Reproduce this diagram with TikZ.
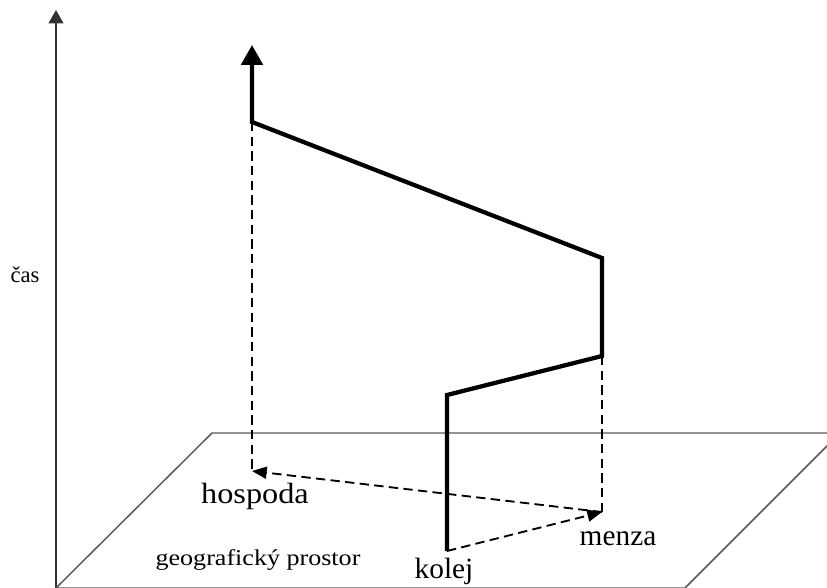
\documentclass[tikz,border=0pt]{standalone}
\usepackage{fontspec}
\setmainfont{Liberation Serif}
\usetikzlibrary{arrows.meta}

\begin{document}
\begin{tikzpicture}[x=0.75pt, y=-0.75pt, axis/.style={-{Triangle[length=10pt,width=11pt]}, line width=1.4pt, black!80}, plane/.style={line width=1.1pt, black!65}, path/.style={-{Triangle[length=15pt,width=16pt]}, line width=3.2pt, line join=miter}, proj/.style={line width=1.4pt, dash pattern=on 7pt off 4pt}, move/.style={proj, -{Triangle[length=11pt,width=9pt]}}, place/.style={font=\fontsize{22}{25}\selectfont, anchor=base}, note/.style={font=\fontsize{17}{20}\selectfont, anchor=base}]

\useasboundingbox (0,0) rectangle (827,588); \clip (0,0) rectangle (827,588);
\coordinate (O) at (56,588); \coordinate (T) at (56,10); \draw[axis] (O)--(T); \node[note] (cas) at (25,282) {čas};
\draw[plane] (O)--(212,433)--(840,433)--(685,588)--cycle;
\coordinate (K) at (447,551); \coordinate (K1) at (447,395); \coordinate (M0) at (602,356); \coordinate (M1) at (602,258); \coordinate (H0) at (252,122); \coordinate (H1) at (252,45);
\coordinate (M) at (602,512); \coordinate (H) at (252,471);
\draw[proj] (H0)--(H); \draw[proj] (M0)--(M); \draw[move] (K)--(M); \draw[move] (M)--(H);
\draw[path] (K)--(K1)--(M0)--(M1)--(H0)--(H1);
\node[place, xscale=1.1] (hospoda) at (255,503) {hospoda}; \node[place] (menza) at (618,545) {menza}; \node[place] (kolej) at (444,578) {kolej};
\node[note, xscale=1.15] (prostor) at (258,565) {geografický prostor};
\end{tikzpicture}
\end{document}
